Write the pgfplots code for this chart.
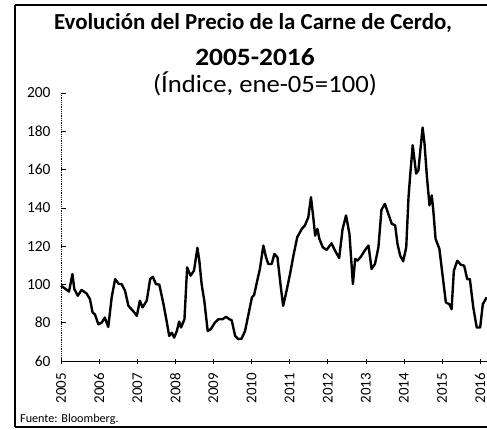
\documentclass[border=0pt]{standalone}
\usepackage{pgfplots}
\pgfplotsset{compat=1.18}
\usepackage{fontspec}
\setmainfont{Carlito}
\begin{document}
\begin{tikzpicture}[x=1bp,y=1bp]
\useasboundingbox (0,0) rectangle (487,429);
\begin{axis}[
  at={(61bp,68bp)}, anchor=south west,
  scale only axis, width=426bp, height=268bp,
  xmin=2005, xmax=2016.18, ymin=60, ymax=200,
  axis x line=bottom, axis y line=left,
  x axis line style={-, line width=0.8pt},
  y axis line style={-, densely dotted, line width=0.8pt},
  xtick={2005,2006,2007,2008,2009,2010,2011,2012,2013,2014,2015,2016},
  xticklabels={2005,2006,2007,2008,2009,2010,2011,2012,2013,2014,2015,2016},
  ytick={60,80,100,120,140,160,180,200},
  /pgf/number format/assume math mode=true,
  x tick style={black, line width=0.6pt}, y tick style={black, line width=0.6pt},
  xtick align=center, ytick align=inside,
  major tick length=5bp,
  xticklabel style={yshift=-6bp, rotate=90, anchor=east, font=\fontsize{15}{17}\selectfont},
  yticklabel style={xshift=-7bp, font=\fontsize{15.5}{17}\selectfont},
  clip=false,
]
\addplot[black, line width=2.4pt, line join=round] coordinates {
(2005.00,99.3) (2005.10,97.9) (2005.21,96.3) (2005.30,105.4) (2005.35,97.6)
(2005.44,94.1) (2005.54,97.1) (2005.67,95.3) (2005.76,92.3) (2005.83,85.3)
(2005.89,84.4) (2005.98,79.2) (2006.07,80.1) (2006.15,82.7) (2006.24,77.8)
(2006.33,93.2) (2006.42,102.8) (2006.52,100.2) (2006.59,100.2) (2006.68,96.7)
(2006.77,88.8) (2006.90,85.9) (2006.99,83.6) (2007.07,91.5) (2007.14,88.0)
(2007.25,91.5) (2007.34,102.8) (2007.41,104.0) (2007.49,100.2) (2007.58,99.9)
(2007.69,89.7) (2007.77,81.0) (2007.84,73.1) (2007.91,74.8) (2007.97,72.2)
(2008.04,75.7) (2008.10,80.6) (2008.15,77.5) (2008.24,81.8) (2008.31,108.9)
(2008.40,104.6) (2008.49,107.2) (2008.58,119.1) (2008.63,112.4) (2008.69,100.2)
(2008.76,91.5) (2008.85,75.7) (2008.93,76.6) (2009.04,80.1) (2009.13,81.8)
(2009.24,81.8) (2009.33,83.1) (2009.42,81.8) (2009.48,81.3) (2009.57,73.1)
(2009.65,71.4) (2009.74,71.7) (2009.83,75.7) (2009.92,84.4) (2010.01,93.2)
(2010.07,94.6) (2010.14,101.1) (2010.22,108.1) (2010.31,120.3) (2010.38,114.2)
(2010.44,110.7) (2010.53,110.7) (2010.60,115.9) (2010.68,114.2) (2010.77,98.4)
(2010.83,88.8) (2010.92,96.7) (2011.01,105.4) (2011.10,115.1) (2011.20,124.7)
(2011.32,129.0) (2011.40,130.8) (2011.49,135.1) (2011.56,145.6) (2011.62,135.1)
(2011.67,125.5) (2011.73,129.0) (2011.78,123.8) (2011.87,119.4) (2011.97,118.0)
(2012.10,121.5) (2012.19,117.7) (2012.30,113.8) (2012.39,129.0) (2012.48,136.0)
(2012.57,126.4) (2012.66,100.2) (2012.72,113.3) (2012.78,112.4) (2012.87,114.5)
(2012.98,118.0) (2013.07,120.3) (2013.15,108.1) (2013.24,110.7) (2013.33,119.4)
(2013.41,139.0) (2013.50,142.1) (2013.59,136.9) (2013.68,131.7) (2013.77,130.8)
(2013.83,121.2) (2013.90,115.1) (2013.98,112.1) (2014.06,119.4) (2014.12,145.6)
(2014.16,156.1) (2014.23,172.7) (2014.32,157.9) (2014.38,159.6) (2014.43,170.1)
(2014.49,182.0) (2014.54,173.6) (2014.60,157.0) (2014.67,141.3) (2014.73,146.5)
(2014.77,138.7) (2014.83,123.8) (2014.93,118.6) (2015.02,103.7) (2015.10,90.6)
(2015.19,89.7) (2015.25,87.1) (2015.31,107.2) (2015.40,112.4) (2015.49,110.3)
(2015.58,109.8) (2015.66,102.8) (2015.73,102.8) (2015.82,87.9) (2015.91,77.5)
(2016.00,77.5) (2016.07,89.7) (2016.17,93.2)
};
\end{axis}
\draw[line width=2bp] (15,424) -- (15,2);
\draw[line width=1.2bp] (15,424) -- (490,424);
\draw[line width=2bp] (15,2) -- (490,2);
\node[anchor=base, font=\fontsize{23}{26}\selectfont\bfseries] at (253,399) {Evolución del Precio de la Carne de Cerdo,};
\node[anchor=base, xscale=1.1, font=\fontsize{25}{28}\selectfont\bfseries] at (255,364) {2005-2016};
\node[anchor=base, xscale=1.07, font=\fontsize{25}{28}\selectfont] at (265,337) {(Índice, ene-05=100)};
\node[anchor=base west, inner sep=0pt, font=\fontsize{12.2}{14}\selectfont] at (20,7) {Fuente: Bloomberg.};
\end{tikzpicture}
\end{document}
